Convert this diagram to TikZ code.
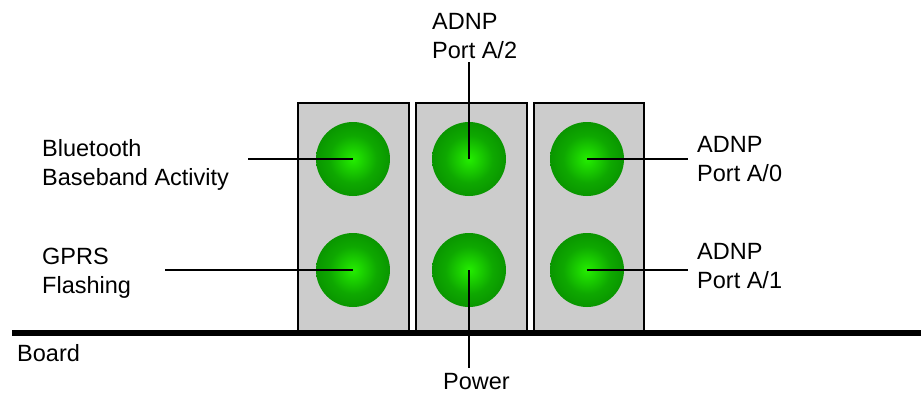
\documentclass[tikz,border=0pt]{standalone}
\usepackage{fontspec}
\setmainfont{Liberation Sans}
\definecolor{ledlight}{RGB}{36,238,0}
\definecolor{ledmid}{RGB}{14,168,0}
\definecolor{ledouter}{RGB}{4,128,0}
\definecolor{leddark}{RGB}{0,92,0}
\definecolor{housing}{RGB}{204,204,204}
\pgfdeclareradialshading{ledglow}{\pgfpoint{0bp}{0bp}}{color(0bp)=(ledlight); color(16bp)=(ledmid); color(36bp)=(ledouter); color(48bp)=(leddark); color(50bp)=(leddark)}
\begin{document}
\begin{tikzpicture}[x=1pt,y=-1pt,font=\fontsize{23.5}{29}\selectfont,align=left,
  led/.style={circle,minimum size=74pt,inner sep=0pt,shading=ledglow},
  lbl/.style={anchor=west,inner sep=0pt},
  wire/.style={line width=2pt}]
\useasboundingbox (0,0) rectangle (921,394);
\draw[line width=2pt,fill=housing] (298,103) rectangle (409,333);
\draw[line width=2pt,fill=housing] (416,103) rectangle (527,333);
\draw[line width=2pt,fill=housing] (534,103) rectangle (644,333);
\draw[line width=6pt] (12,333) -- (921,333);
\node[led] (bt) at (353,159) {};
\node[led] (gprs) at (353,270) {};
\node[led] (a2) at (469,159) {};
\node[led] (pwr) at (469,270) {};
\node[led] (a0) at (587,159) {};
\node[led] (a1) at (587,270) {};
\node[lbl] (btlbl) at (42,165) {Bluetooth\\Baseband Activity};
\node[lbl] (gprslbl) at (42,273) {GPRS\\Flashing};
\node[lbl] (a0lbl) at (697,159) {ADNP\\Port A/0};
\node[lbl] (a1lbl) at (697,266) {ADNP\\Port A/1};
\node[lbl] (a2lbl) at (432,36) {ADNP\\Port A/2};
\node[lbl] (pwrlbl) at (443,382) {Power};
\node[lbl] (board) at (17,353) {Board};
\coordinate (btend) at (248,159);
\coordinate (gprsend) at (165,270);
\coordinate (a0end) at (688,159);
\coordinate (a1end) at (688,270);
\coordinate (a2end) at (469,62);
\coordinate (pwrend) at (469,368);
\draw[wire] (btend) -- (bt.center);
\draw[wire] (gprsend) -- (gprs.center);
\draw[wire] (a0.center) -- (a0end);
\draw[wire] (a1.center) -- (a1end);
\draw[wire] (a2end) -- (a2.center);
\draw[wire] (pwr.center) -- (pwrend);
\end{tikzpicture}
\end{document}
